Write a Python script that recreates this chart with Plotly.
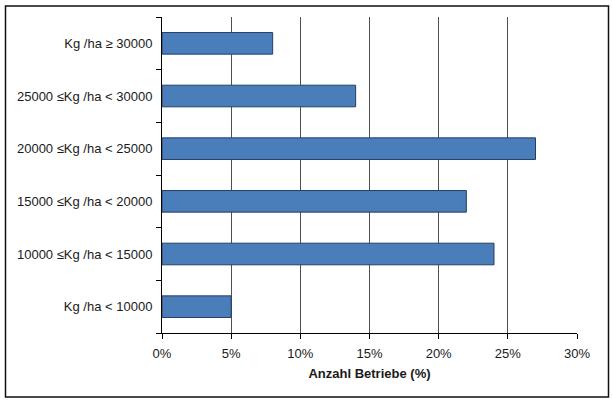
import plotly.graph_objects as go

categories = [
    "Kg /ha < 10000",
    "10000 ≤Kg /ha < 15000",
    "15000 ≤Kg /ha < 20000",
    "20000 ≤Kg /ha < 25000",
    "25000 ≤Kg /ha < 30000",
    "Kg /ha ≥ 30000",
]
values = [5, 24, 22, 27, 14, 8]
x_ticks = [0, 5, 10, 15, 20, 25, 30]
x_tick_labels = [f"{v}%" for v in x_ticks]

W, H = 613, 401
L, R, T, B = 162, 36, 17, 68
pw, ph = W - L - R, H - T - B

def px_to_paper_x(px):
    return (px - L) / pw

def px_to_paper_y(py):
    return (H - B - py) / ph

font = dict(family="Liberation Sans, Arial, sans-serif", size=13, color="#1a1a1a")

fig = go.Figure(
    go.Bar(
        x=values,
        y=categories,
        orientation="h",
        marker=dict(color="#4A7EBB", line=dict(color="#243F60", width=1)),
        hoverinfo="skip",
    )
)

fig.update_layout(
    width=W,
    height=H,
    margin=dict(l=L, r=R, t=T, b=B),
    paper_bgcolor="white",
    plot_bgcolor="white",
    font=font,
    bargap=0.59,
    showlegend=False,
    xaxis=dict(
        range=[0, 30],
        tickvals=x_ticks,
        ticktext=x_tick_labels,
        showgrid=True,
        gridcolor="#505050",
        gridwidth=1,
        zeroline=False,
        showline=True,
        linecolor="#000000",
        linewidth=1,
        ticks="outside",
        ticklen=5,
        tickcolor="#000000",
        tickfont=font,
        ticklabelstandoff=3,
        title=dict(text="<b>Anzahl Betriebe (%)</b>", font=font, standoff=9),
        fixedrange=True,
    ),
    yaxis=dict(
        type="category",
        categoryorder="array",
        categoryarray=categories,
        showgrid=False,
        zeroline=False,
        showline=True,
        linecolor="#000000",
        linewidth=1,
        ticks="outside",
        tickson="boundaries",
        ticklen=5,
        tickcolor="#000000",
        tickfont=font,
        ticklabelstandoff=6,
        fixedrange=True,
    ),
    shapes=[
        dict(
            type="rect",
            xref="paper",
            yref="paper",
            x0=px_to_paper_x(5.5),
            x1=px_to_paper_x(608.5),
            y0=px_to_paper_y(397),
            y1=px_to_paper_y(6),
            line=dict(color="#111111", width=1.5),
            layer="below",
        )
    ],
)

fig.write_html("out.html")
